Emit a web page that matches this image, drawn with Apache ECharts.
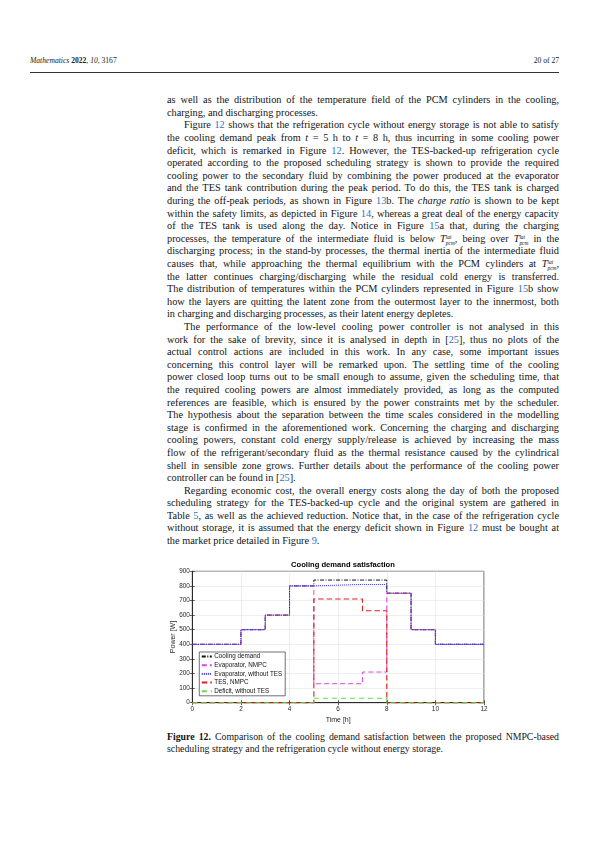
<!DOCTYPE html>
<html>
<head>
<meta charset="utf-8">
<script src="https://cdn.jsdelivr.net/npm/echarts/dist/echarts.min.js"></script>
<style>
  html, body { margin:0; padding:0; background:#fff; }
  body { width:595px; height:842px; position:relative; overflow:hidden; font-family:"Liberation Serif", serif; color:#141414; }
  .hdr { position:absolute; top:57px; font-size:7.6px; line-height:8px; color:#222; white-space:nowrap; }
  .rule { position:absolute; left:30px; width:529px; top:71.6px; height:0; border-top:0.8px solid #333; }
  #text { position:absolute; left:167px; top:94.3px; width:392px; font-size:10.3px; line-height:12.6px; }
  .ln { height:12.6px; white-space:nowrap; }
  .ind { padding-left:17px; }
  .lk { color:#2f6fbf; }
  .ss { display:inline-block; vertical-align:-3px; font-size:5.4px; line-height:6.2px; font-style:italic; }
  .ss span { display:block; }
  #cap { position:absolute; left:167px; top:730.5px; width:392px; font-size:9.8px; line-height:12px; }
  #cap .ln { height:12px; }
  #chart { position:absolute; left:150px; top:548px; width:345px; height:182px; }
</style>
</head>
<body>
<div class="hdr" style="left:30px"><i>Mathematics</i> <b>2022</b>, <i>10</i>, 3167</div>
<div class="hdr" style="right:36px">20 of 27</div>
<div class="rule"></div>

<div id="text">
<div class="ln j"><span>as well as the distribution of the temperature field of the PCM cylinders in the cooling,</span></div>
<div class="ln"><span>charging, and discharging processes.</span></div>
<div class="ln j ind"><span>Figure <span class="lk">12</span> shows that the refrigeration cycle without energy storage is not able to satisfy</span></div>
<div class="ln j"><span>the cooling demand peak from <i>t</i> = 5 h to <i>t</i> = 8 h, thus incurring in some cooling power</span></div>
<div class="ln j"><span>deficit, which is remarked in Figure <span class="lk">12</span>. However, the TES-backed-up refrigeration cycle</span></div>
<div class="ln j"><span>operated according to the proposed scheduling strategy is shown to provide the required</span></div>
<div class="ln j"><span>cooling power to the secondary fluid by combining the power produced at the evaporator</span></div>
<div class="ln j"><span>and the TES tank contribution during the peak period. To do this, the TES tank is charged</span></div>
<div class="ln j"><span>during the off-peak periods, as shown in Figure <span class="lk">13</span>b. The <i>charge ratio</i> is shown to be kept</span></div>
<div class="ln j"><span>within the safety limits, as depicted in Figure <span class="lk">14</span>, whereas a great deal of the energy capacity</span></div>
<div class="ln j"><span>of the TES tank is used along the day. Notice in Figure <span class="lk">15</span>a that, during the charging</span></div>
<div class="ln j"><span>processes, the temperature of the intermediate fluid is below <i>T</i><span class="ss"><span>lat</span><span>pcm</span></span>, being over <i>T</i><span class="ss"><span>lat</span><span>pcm</span></span> in the</span></div>
<div class="ln j"><span>discharging process; in the stand-by processes, the thermal inertia of the intermediate fluid</span></div>
<div class="ln j"><span>causes that, while approaching the thermal equilibrium with the PCM cylinders at <i>T</i><span class="ss"><span>lat</span><span>pcm</span></span>,</span></div>
<div class="ln j"><span>the latter continues charging/discharging while the residual cold energy is transferred.</span></div>
<div class="ln j"><span>The distribution of temperatures within the PCM cylinders represented in Figure <span class="lk">15</span>b show</span></div>
<div class="ln j"><span>how the layers are quitting the latent zone from the outermost layer to the innermost, both</span></div>
<div class="ln"><span>in charging and discharging processes, as their latent energy depletes.</span></div>
<div class="ln j ind"><span>The performance of the low-level cooling power controller is not analysed in this</span></div>
<div class="ln j"><span>work for the sake of brevity, since it is analysed in depth in [<span class="lk">25</span>], thus no plots of the</span></div>
<div class="ln j"><span>actual control actions are included in this work. In any case, some important issues</span></div>
<div class="ln j"><span>concerning this control layer will be remarked upon. The settling time of the cooling</span></div>
<div class="ln j"><span>power closed loop turns out to be small enough to assume, given the scheduling time, that</span></div>
<div class="ln j"><span>the required cooling powers are almost immediately provided, as long as the computed</span></div>
<div class="ln j"><span>references are feasible, which is ensured by the power constraints met by the scheduler.</span></div>
<div class="ln j"><span>The hypothesis about the separation between the time scales considered in the modelling</span></div>
<div class="ln j"><span>stage is confirmed in the aforementioned work. Concerning the charging and discharging</span></div>
<div class="ln j"><span>cooling powers, constant cold energy supply/release is achieved by increasing the mass</span></div>
<div class="ln j"><span>flow of the refrigerant/secondary fluid as the thermal resistance caused by the cylindrical</span></div>
<div class="ln j"><span>shell in sensible zone grows. Further details about the performance of the cooling power</span></div>
<div class="ln"><span>controller can be found in [<span class="lk">25</span>].</span></div>
<div class="ln j ind"><span>Regarding economic cost, the overall energy costs along the day of both the proposed</span></div>
<div class="ln j"><span>scheduling strategy for the TES-backed-up cycle and the original system are gathered in</span></div>
<div class="ln j"><span>Table <span class="lk">5</span>, as well as the achieved reduction. Notice that, in the case of the refrigeration cycle</span></div>
<div class="ln j"><span>without storage, it is assumed that the energy deficit shown in Figure <span class="lk">12</span> must be bought at</span></div>
<div class="ln"><span>the market price detailed in Figure <span class="lk">9</span>.</span></div>
</div>

<div id="chart"></div>

<div id="cap">
<div class="ln j"><span><b>Figure 12.</b> Comparison of the cooling demand satisfaction between the proposed NMPC-based</span></div>
<div class="ln"><span>scheduling strategy and the refrigeration cycle without energy storage.</span></div>
</div>

<script>
// ---- data ----
const timeEdges     = [0, 2, 3, 4, 5, 7, 8, 9, 10, 12];            // hours, interval boundaries
const coolingDemand = [400, 500, 600, 800, 840, 840, 750, 500, 400]; // W per interval
const evapNMPC      = [400, 500, 600, 800, 130, 210, 750, 500, 400];
const evapNoTES     = [400, 500, 600, 800, 810, 810, 750, 500, 400];
const tesNMPC       = [0, 0, 0, 0, 710, 630, 0, 0, 0];
const deficitNoTES  = [0, 0, 0, 0, 30, 30, 0, 0, 0];
const seriesNames   = ['Cooling demand', 'Evaporator, NMPC', 'Evaporator, without TES', 'TES, NMPC', 'Deficit, without TES'];
const xTicks = { min: 0, max: 12, interval: 2 };
const yTicks = { min: 0, max: 900, interval: 100 };

// ---- justify text lines ----
function justify(container, width) {
  container.querySelectorAll('.ln.j').forEach(ln => {
    const sp = ln.firstElementChild;
    const target = width - (ln.classList.contains('ind') ? 17 : 0);
    const w = sp.getBoundingClientRect().width;
    const n = (sp.textContent.match(/ /g) || []).length;
    if (n > 0) sp.style.wordSpacing = ((target - w) / n) + 'px';
  });
}
justify(document.getElementById('text'), 392);
justify(document.getElementById('cap'), 392);

// ---- chart ----
function steps(vals) {
  const pts = [];
  for (let i = 0; i < vals.length; i++) pts.push([timeEdges[i], vals[i]]);
  pts.push([timeEdges[timeEdges.length - 1], vals[vals.length - 1]]);
  return pts;
}
const styles = [
  { color: '#111111', width: 1.0, type: [4, 1.5, 1, 1.5] },
  { color: '#dd44dd', width: 1.0, type: [5, 3] },
  { color: '#2b2bd8', width: 1.0, type: [1, 1] },
  { color: '#dd2222', width: 1.1, type: [5.5, 3] },
  { color: '#66dd44', width: 1.1, type: [5, 4] }
];
const dataSets = [coolingDemand, evapNMPC, evapNoTES, tesNMPC, deficitNoTES];

const chart = echarts.init(document.getElementById('chart'), null, { renderer: 'canvas' });
const font = 'Liberation Sans, Arial, sans-serif';
const axisCommon = {
  type: 'value',
  axisLine: { show: true, lineStyle: { color: '#262626', width: 0.8 } },
  axisTick: { show: true, inside: true, length: 2.5, lineStyle: { color: '#262626', width: 0.7 } },
};
chart.setOption({
  animation: false,
  textStyle: { fontFamily: font },
  title: {
    text: 'Cooling demand satisfaction', left: 188, top: 7.5, textAlign: 'center',
    textStyle: { fontFamily: font, fontSize: 7.6, fontWeight: 'bold', color: '#000' }
  },
  grid: { left: 42.3, top: 23.3, width: 291.7, height: 131.4, show: true, borderColor: '#262626', borderWidth: 0.8, backgroundColor: '#fff' },
  legend: {
    orient: 'vertical', left: 49.3, top: 104,
    itemWidth: 10, itemHeight: 6, itemGap: 2.7,
    padding: [1.5, 3, 1.5, 1.5],
    backgroundColor: '#fff', borderColor: '#333', borderWidth: 0.7,
    itemStyle: { opacity: 0 },
    textStyle: { fontFamily: font, fontSize: 6.3, color: '#111', padding: [0, 0, 0, -2.5] },
    data: seriesNames
  },
  xAxis: [
    Object.assign({}, axisCommon, xTicks, {
      position: 'bottom', name: 'Time [h]', nameLocation: 'middle', nameGap: 13.5, nameMoveOverlap: false,
      nameTextStyle: { fontFamily: font, fontSize: 7, color: '#262626' },
      axisLabel: { fontFamily: font, fontSize: 6.4, color: '#262626', margin: 4 },
      splitLine: { show: true, lineStyle: { color: '#e3e3e3', width: 0.6 } }
    }),
    Object.assign({}, axisCommon, xTicks, { position: 'top', axisLabel: { show: false }, splitLine: { show: false } })
  ],
  yAxis: [
    Object.assign({}, axisCommon, yTicks, {
      position: 'left', name: 'Power [W]', nameLocation: 'middle', nameGap: 15.5, nameRotate: 90, nameMoveOverlap: false,
      nameTextStyle: { fontFamily: font, fontSize: 7, color: '#262626' },
      axisLabel: { fontFamily: font, fontSize: 6.4, color: '#262626', margin: 2.5 },
      splitLine: { show: true, lineStyle: { color: '#e3e3e3', width: 0.6 } }
    }),
    Object.assign({}, axisCommon, yTicks, { position: 'right', axisLabel: { show: false }, splitLine: { show: false } })
  ],
  series: dataSets.map((d, i) => ({
    name: seriesNames[i], type: 'line', step: 'end', xAxisIndex: 0, yAxisIndex: 0,
    data: steps(d), symbol: 'none', clip: false,
    itemStyle: { color: styles[i].color },
    lineStyle: { color: styles[i].color, width: styles[i].width, type: styles[i].type },
    z: 2 + i
  }))
});
</script>
</body>
</html>
